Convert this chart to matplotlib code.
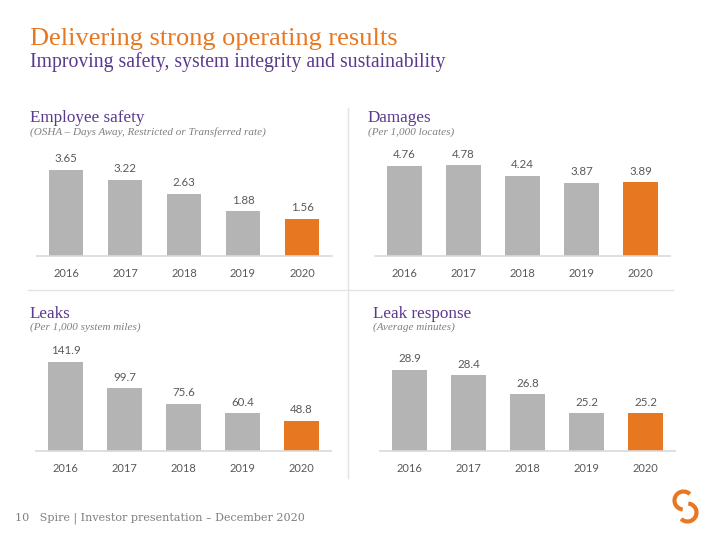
import matplotlib.pyplot as plt
from matplotlib.patches import Arc
from matplotlib.lines import Line2D

W, H = 720, 540

years = ['2016', '2017', '2018', '2019', '2020']
safety = [3.65, 3.22, 2.63, 1.88, 1.56]
damages = [4.76, 4.78, 4.24, 3.87, 3.89]
leaks = [141.9, 99.7, 75.6, 60.4, 48.8]
response = [28.9, 28.4, 26.8, 25.2, 25.2]

orange = '#e87722'
purple = '#5b3a8e'
grey_bar = '#b4b4b4'
txt_grey = '#595959'
serif = ['Liberation Serif', 'DejaVu Serif']
sans = ['Lato', 'DejaVu Sans']

fig = plt.figure(figsize=(7.2, 5.4), dpi=100)


def fy(y):
    return 1 - y / H


# title block
fig.text(30 / W, fy(45.5), 'Delivering strong operating results', family=serif,
         size=19, color=orange, va='baseline')
fig.text(30 / W, fy(67.5), 'Improving safety, system integrity and sustainability',
         family=serif, size=14.2, color=purple, va='baseline')

# panels: values, format, title, note, left, right, baseline, ymin, px per unit, text x, text y
panels = [
    (safety, '{:.2f}', 'Employee safety', '(OSHA – Days Away, Restricted or Transferred rate)',
     36.5, 331.5, 255.7, 0, 23.6, 30, 122),
    (damages, '{:.2f}', 'Damages', '(Per 1,000 locates)',
     375, 670, 255.7, 0, 18.9, 368, 122),
    (leaks, '{:.1f}', 'Leaks', '(Per 1,000 system miles)',
     36, 331, 451.3, 0, 0.63, 29.5, 317.5),
    (response, '{:.1f}', 'Leak response', '(Average minutes)',
     380, 675, 450.7, 22.05, 11.85, 372.5, 317.5),
]

for vals, fmt, title, note, x0, x1, base, ymin, scale, tx, ty in panels:
    top = base - 106
    ax = fig.add_axes([x0 / W, fy(base), (x1 - x0) / W, (base - top) / H])
    colors = [grey_bar] * (len(vals) - 1) + [orange]
    ax.bar(range(len(vals)), vals, width=0.58, color=colors)
    ax.set_xlim(-0.5, len(vals) - 0.5)
    ax.set_ylim(ymin, ymin + (base - top) / scale)
    for s in ['top', 'left', 'right']:
        ax.spines[s].set_visible(False)
    ax.spines['bottom'].set_color('#d9d9d9')
    ax.spines['bottom'].set_linewidth(1.2)
    ax.set_yticks([])
    ax.set_xticks(range(len(vals)))
    ax.set_xticklabels(years, family=sans, size=8, color=txt_grey)
    ax.tick_params(axis='x', length=0, pad=8.5)
    for i, v in enumerate(vals):
        ax.annotate(fmt.format(v), (i, v), xytext=(0, 7.5), textcoords='offset pixels',
                    ha='center', va='baseline', family=sans, size=8.3, color=txt_grey)
    fig.text(tx / W, fy(ty), title, family=serif, size=12.3, color=purple, va='baseline')
    fig.text(tx / W, fy(ty + 12.5), note, family=serif, style='italic', size=8,
             color='#7f7f7f', va='baseline')

# divider lines
fig.add_artist(Line2D([28 / W, 673 / W], [fy(290), fy(290)], color='#e3e3e3', lw=1))
fig.add_artist(Line2D([348 / W, 348 / W], [fy(108), fy(478)], color='#e3e3e3', lw=1))

# footer
fig.text(15 / W, fy(521), '10   Spire | Investor presentation – December 2020',
         family=['DejaVu Serif'], size=8, color='#7f7f7f', va='baseline')

# logo
lax = fig.add_axes([0, 0, 1, 1], zorder=-1)
lax.set_xlim(0, W)
lax.set_ylim(0, H)
lax.axis('off')
lax.add_patch(Arc((683.5, H - 500.5), 18, 18, theta1=45, theta2=265, color=orange, lw=3))
lax.add_patch(Arc((687.5, H - 512.5), 18, 18, theta1=-135, theta2=85, color=orange, lw=3))

fig.savefig('out.png', dpi=100)
